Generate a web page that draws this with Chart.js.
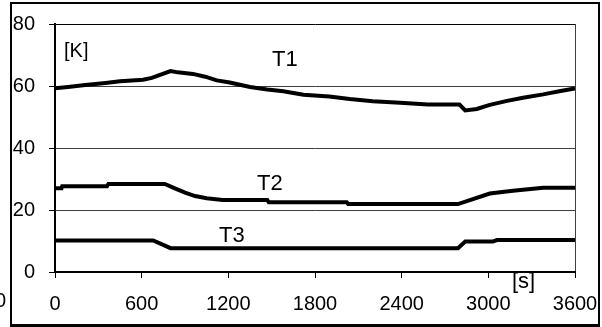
<!DOCTYPE html>
<html>
<head>
<meta charset="utf-8">
<script src="https://cdn.jsdelivr.net/npm/chart.js@4.4.1/dist/chart.umd.min.js"></script>
<style>
    html, body { margin: 0; padding: 0; background: #fff; }
    body { width: 602px; height: 327px; position: relative; overflow: hidden; font-family: 'Liberation Sans', Arial, sans-serif; }
    #chart { position: absolute; left: 0; top: 0; }
    .frame { position: absolute; left: 10px; top: 2px; width: 590px; height: 325px; box-sizing: border-box; border: 2px solid #000; border-bottom-width: 3px; pointer-events: none; }
    .label { position: absolute; line-height: 1; color: #000; white-space: nowrap; }
</style>
</head>
<body>
<canvas id="chart" width="602" height="327"></canvas>
<div class="frame"></div>
<div class="label" style="left:-5px; top:290px; font-size:20px;">0</div>
<div class="label" style="left:64px; top:40px; font-size:20px;">[K]</div>
<div class="label" style="left:512px; top:270px; font-size:22px;">[s]</div>
<div class="label" style="left:272px; top:48px; font-size:22px;">T1</div>
<div class="label" style="left:257px; top:172px; font-size:22px;">T2</div>
<div class="label" style="left:219px; top:224px; font-size:22px;">T3</div>
<script>
// time in seconds, temperature in K
const t1Time = [0, 90, 210, 350, 450, 610, 670, 800, 850, 955, 1040, 1120, 1210, 1350, 1470, 1580, 1720, 1900, 2040, 2200, 2390, 2580, 2800, 2840, 2920, 3010, 3130, 3240, 3380, 3500, 3600];
const t1Temp = [59.3, 59.7, 60.3, 61, 61.5, 62, 62.6, 64.8, 64.4, 63.9, 63, 61.8, 61.1, 59.7, 58.9, 58.3, 57.2, 56.6, 55.8, 55.1, 54.6, 54, 54, 52.1, 52.6, 53.9, 55.2, 56.2, 57.3, 58.4, 59.2];

const t2Time = [0, 45, 50, 360, 370, 760, 830, 900, 970, 1050, 1160, 1470, 1480, 2020, 2030, 2790, 3010, 3170, 3380, 3600];
const t2Temp = [27, 27, 27.7, 27.7, 28.4, 28.4, 27, 25.6, 24.5, 23.8, 23.2, 23.2, 22.5, 22.5, 21.9, 21.9, 25.3, 26.2, 27.2, 27.2];

const t3Time = [0, 680, 800, 2790, 2840, 3030, 3060, 3600];
const t3Temp = [10.2, 10.2, 7.7, 7.7, 9.8, 9.8, 10.3, 10.3];

const xTicks = [0, 600, 1200, 1800, 2400, 3000, 3600];
const yTicks = [0, 20, 40, 60, 80];

const toPoints = (xs, ys) => xs.map((x, i) => ({ x, y: ys[i] }));

const lineSet = (label, xs, ys) => ({
    label,
    data: toPoints(xs, ys),
    borderColor: '#000',
    borderWidth: 4,
    pointRadius: 0,
    tension: 0,
    fill: false
});

const font = { family: "'Liberation Sans', Arial, sans-serif", size: 20 };

new Chart(document.getElementById('chart').getContext('2d'), {
    type: 'line',
    data: {
        datasets: [
            lineSet('T1', t1Time, t1Temp),
            lineSet('T2', t2Time, t2Temp),
            lineSet('T3', t3Time, t3Temp)
        ]
    },
    options: {
        responsive: false,
        animation: false,
        layout: { padding: { left: 0, top: 24, right: 27, bottom: 0 } },
        plugins: { legend: { display: false }, tooltip: { enabled: false } },
        scales: {
            x: {
                type: 'linear',
                min: 0,
                max: 3600,
                afterBuildTicks: s => { s.ticks = xTicks.map(v => ({ value: v })); },
                afterFit: s => { s.height = 55; s.paddingLeft = 0; s.paddingRight = 0; },
                ticks: { font, color: '#000', padding: 14, maxRotation: 0, autoSkip: false, callback: v => String(v) },
                grid: {
                    color: c => c.tick && c.tick.value === 3600 ? '#404040' : 'rgba(0,0,0,0)',
                    tickColor: '#000',
                    tickLength: 6,
                    lineWidth: 1
                },
                border: { color: '#000', width: 2 }
            },
            y: {
                min: 0,
                max: 80,
                afterBuildTicks: s => { s.ticks = yTicks.map(v => ({ value: v })); },
                afterFit: s => { s.width = 55; s.paddingTop = 0; s.paddingBottom = 0; },
                ticks: { font, color: '#000', padding: 14, callback: v => String(v) },
                grid: {
                    color: c => c.tick && c.tick.value === 80 ? '#000' : '#404040',
                    tickColor: '#000',
                    tickLength: 6,
                    lineWidth: 1
                },
                border: { color: '#000', width: 2 }
            }
        }
    }
});
</script>
</body>
</html>
